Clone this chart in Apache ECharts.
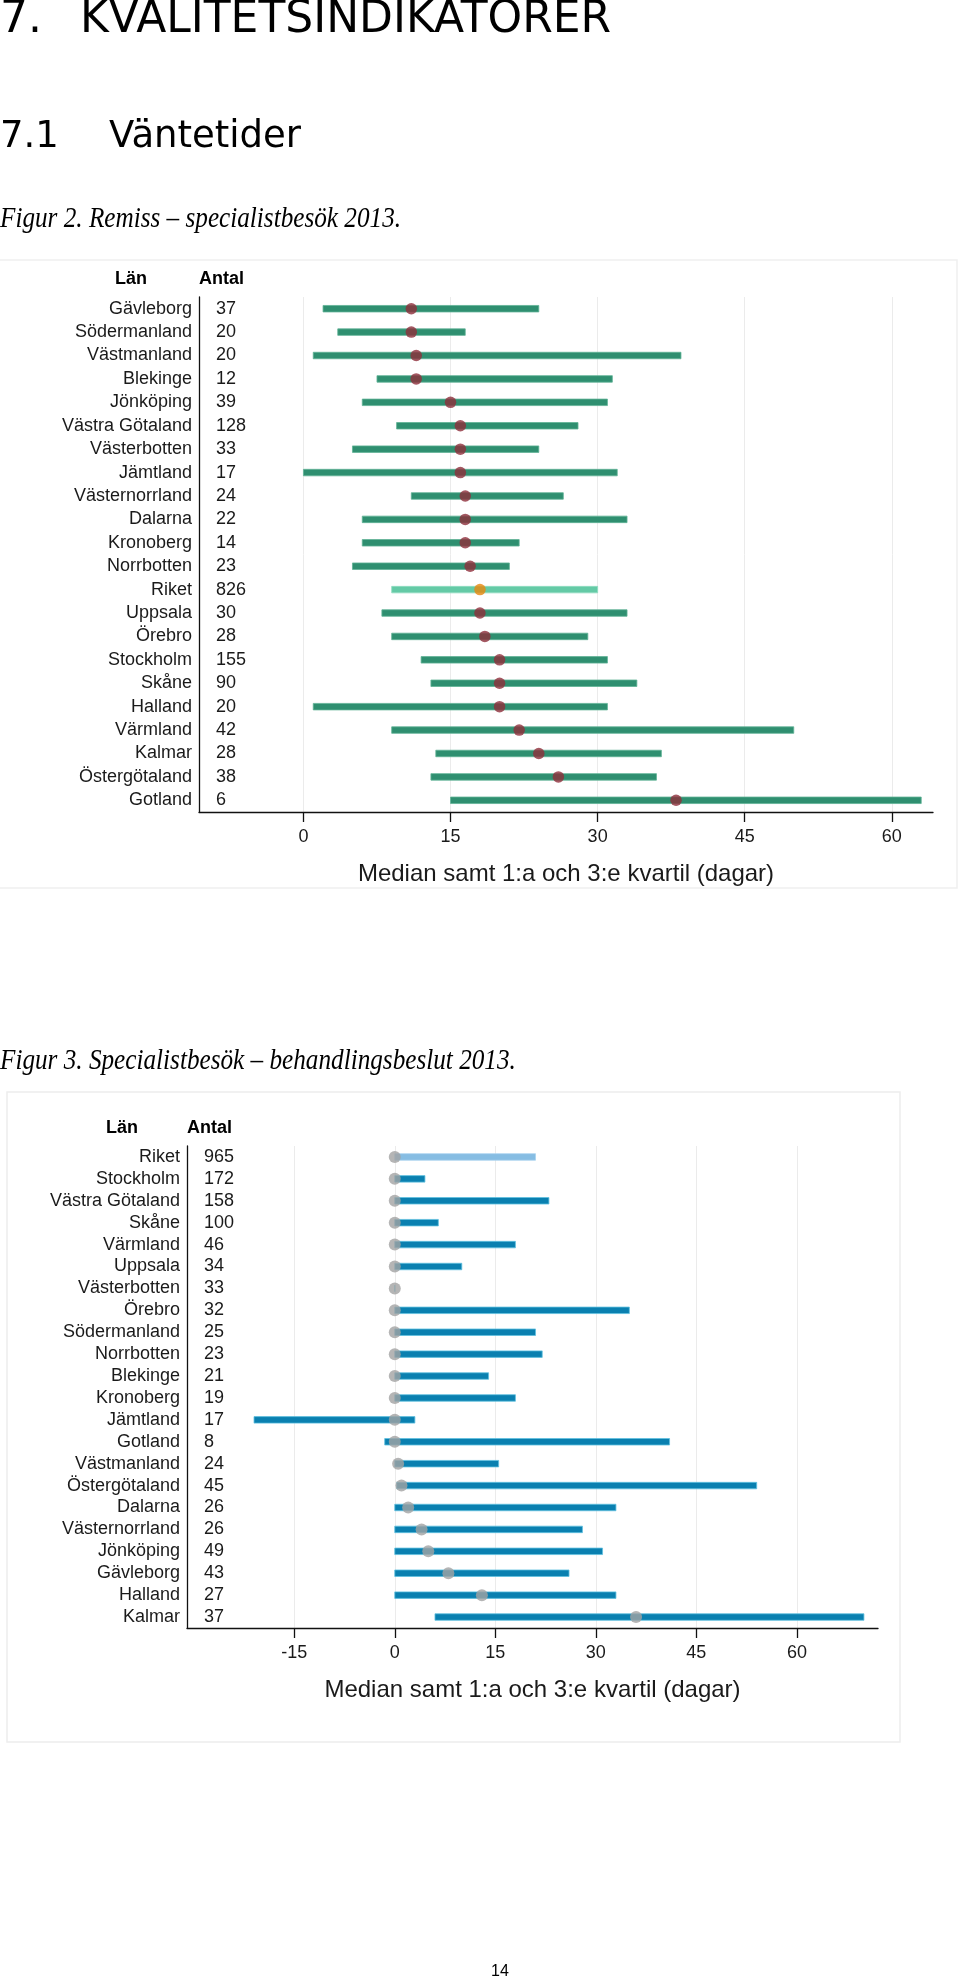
<!DOCTYPE html>
<html>
<head>
<meta charset="utf-8">
<script src="https://cdn.jsdelivr.net/npm/echarts@6/dist/echarts.min.js"></script>
<style>
html,body{margin:0;padding:0;background:#fff;}
#c{width:960px;height:1982px;}
</style>
</head>
<body>
<div id="c"></div>
<script>
// ---------- Figur 2 data ----------
const lan1 = ['Gävleborg','Södermanland','Västmanland','Blekinge','Jönköping','Västra Götaland','Västerbotten','Jämtland','Västernorrland','Dalarna','Kronoberg','Norrbotten','Riket','Uppsala','Örebro','Stockholm','Skåne','Halland','Värmland','Kalmar','Östergötaland','Gotland'];
const antal1 = [37,20,20,12,39,128,33,17,24,22,14,23,826,30,28,155,90,20,42,28,38,6];
const q1_1 =  [2,3.5,1,7.5,6,9.5,5,0,11,6,6,5,9,8,9,12,13,1,9,13.5,13,15];
const med_1 = [11,11,11.5,11.5,15,16,16,16,16.5,16.5,16.5,17,18,18,18.5,20,20,20,22,24,26,38];
const q3_1 =  [24,16.5,38.5,31.5,31,28,24,32,26.5,33,22,21,30,33,29,31,34,31,50,36.5,36,63];
const ticks1 = [0,15,30,45,60];

// ---------- Figur 3 data ----------
const lan2 = ['Riket','Stockholm','Västra Götaland','Skåne','Värmland','Uppsala','Västerbotten','Örebro','Södermanland','Norrbotten','Blekinge','Kronoberg','Jämtland','Gotland','Västmanland','Östergötaland','Dalarna','Västernorrland','Jönköping','Gävleborg','Halland','Kalmar'];
const antal2 = [965,172,158,100,46,34,33,32,25,23,21,19,17,8,24,45,26,26,49,43,27,37];
const q1_2 =  [0,0,0,0,0,0,0,0,0,0,0,0,-21,-1.5,0,0.3,0,0,0,0,0,6];
const med_2 = [0,0,0,0,0,0,0,0,0,0,0,0,0,0,0.5,1,2,4,5,8,13,36];
const q3_2 =  [21,4.5,23,6.5,18,10,0,35,21,22,14,18,3,41,15.5,54,33,28,31,26,33,70];
const ticks2 = [-15,0,15,30,45,60];

const chart = echarts.init(document.getElementById('c'), null, {renderer:'canvas'});
const FONT = '"Liberation Sans", Arial, sans-serif';
const TXT = '#1a1a1a';
const FS = 18;

function rangeRender(colorMain, colorRiket, edgeMain, edgeRiket, names) {
  return function (params, api) {
    const idx = api.value(0);
    const a = api.coord([api.value(1), idx]);
    const b = api.coord([api.value(2), idx]);
    const h = 6.5;
    const isR = names[idx] === 'Riket';
    return {
      type: 'rect',
      shape: {x: a[0], y: a[1] - h / 2, width: b[0] - a[0], height: h},
      style: {fill: isR ? colorRiket : colorMain, stroke: isR ? edgeRiket : edgeMain, lineWidth: 0.8}
    };
  };
}

function yNames(gridIndex, names) {
  return {
    type: 'category', gridIndex: gridIndex, data: names, inverse: true,
    axisLine: {show: true, onZero: false, lineStyle: {color: '#111', width: 1.3}},
    axisTick: {show: false},
    axisLabel: {interval: 0, margin: 7, fontSize: FS, fontFamily: FONT, color: TXT},
    splitLine: {show: false}
  };
}
function yCounts(gridIndex, names, counts, offset) {
  return {
    type: 'category', gridIndex: gridIndex, data: names, inverse: true, position: 'right', offset: offset,
    axisLine: {show: false, onZero: false}, axisTick: {show: false},
    axisLabel: {interval: 0, margin: 0, fontSize: FS, fontFamily: FONT, color: TXT, align: 'left',
      formatter: function (v, i) { return String(counts[i]); }},
    splitLine: {show: false}
  };
}
function xAxis(gridIndex, min, max, ticks) {
  return {
    type: 'value', gridIndex: gridIndex, min: min, max: max,
    name: 'Median samt 1:a och 3:e kvartil (dagar)', nameLocation: 'middle', nameGap: 50,
    nameTextStyle: {fontSize: 24, fontFamily: FONT, color: TXT},
    axisLine: {show: true, onZero: false, lineStyle: {color: '#111', width: 1.3}},
    axisTick: {show: true, customValues: ticks, length: 10, lineStyle: {color: '#111', width: 1.3}},
    axisLabel: {customValues: ticks, margin: 16, fontSize: FS, fontFamily: FONT, color: TXT},
    splitLine: {show: true, lineStyle: {color: '#ebebeb', width: 1}}
  };
}

const idx1 = lan1.map((n, i) => i);
const idx2 = lan2.map((n, i) => i);

function txt(x, y, text, font, align, extra) {
  return Object.assign({type: 'text', x: x, y: y, silent: true,
    style: {text: text, font: font, fill: '#000', align: align || 'left', verticalAlign: 'middle'}}, extra || {});
}

const option = {
  animation: false,
  backgroundColor: '#fff',
  grid: [
    {left: 199, right: 27, top: 297, height: 515, outerBoundsMode: 'none'},
    {left: 187, right: 82, top: 1146, height: 482, outerBoundsMode: 'none'}
  ],
  xAxis: [xAxis(0, -10.65, 64.2, ticks1), xAxis(1, -31, 72.1, ticks2)],
  yAxis: [yNames(0, lan1), yCounts(0, lan1, antal1, -717), yNames(1, lan2), yCounts(1, lan2, antal2, -674)],
  graphic: [
    {type: 'rect', silent: true, z: -10, shape: {x: -2, y: 260, width: 959, height: 628}, style: {fill: 'none', stroke: '#f0f0f0', lineWidth: 1.5}},
    {type: 'rect', silent: true, z: -10, shape: {x: 7, y: 1092, width: 893, height: 650}, style: {fill: 'none', stroke: '#ededed', lineWidth: 1.5}},
    txt(0, 21, '7.', '44px "DejaVu Sans"'),
    txt(80, 21, 'KVALITETSINDIKATORER', '44px "DejaVu Sans"'),
    txt(0, 137, '7.1', '37px "DejaVu Sans"'),
    txt(109, 137, 'Väntetider', '37px "DejaVu Sans"'),
    txt(0, 219, 'Figur 2. Remiss – specialistbesök 2013.', 'italic 30px "Liberation Serif"', 'left', {scaleX: 0.84, originX: 0}),
    txt(0, 1061, 'Figur 3. Specialistbesök – behandlingsbeslut 2013.', 'italic 30px "Liberation Serif"', 'left', {scaleX: 0.84, originX: 0}),
    txt(131, 279, 'Län', 'bold 18px "Liberation Sans"', 'center'),
    txt(199, 279, 'Antal', 'bold 18px "Liberation Sans"', 'left'),
    txt(122, 1128, 'Län', 'bold 18px "Liberation Sans"', 'center'),
    txt(187, 1128, 'Antal', 'bold 18px "Liberation Sans"', 'left'),
    txt(500, 1972, '14', '16px "Liberation Sans"', 'center')
  ],
  series: [
    {type: 'custom', xAxisIndex: 0, yAxisIndex: 0, z: 2,
     renderItem: rangeRender('#2f8f70', '#64caa6', '#5fb396', '#8fdcc0', lan1),
     data: idx1.map(i => [i, q1_1[i], q3_1[i]])},
    {type: 'scatter', xAxisIndex: 0, yAxisIndex: 0, z: 3, symbol: 'circle', symbolSize: 11.5,
     data: idx1.map(i => ({value: [med_1[i], i], itemStyle: {color: lan1[i] === 'Riket' ? '#e8870c' : '#8e2e3b'}}))},
    {type: 'custom', xAxisIndex: 1, yAxisIndex: 2, z: 2,
     renderItem: rangeRender('#0a80b0', '#86bde3', '#5fc0e0', '#a9d3ef', lan2),
     data: idx2.map(i => [i, q1_2[i], q3_2[i]])},
    {type: 'scatter', xAxisIndex: 1, yAxisIndex: 2, z: 3, symbol: 'circle', symbolSize: 12,
     itemStyle: {color: '#a2a2a2'},
     data: idx2.map(i => [med_2[i], i])}
  ]
};
chart.setOption(option);
</script>
</body>
</html>
